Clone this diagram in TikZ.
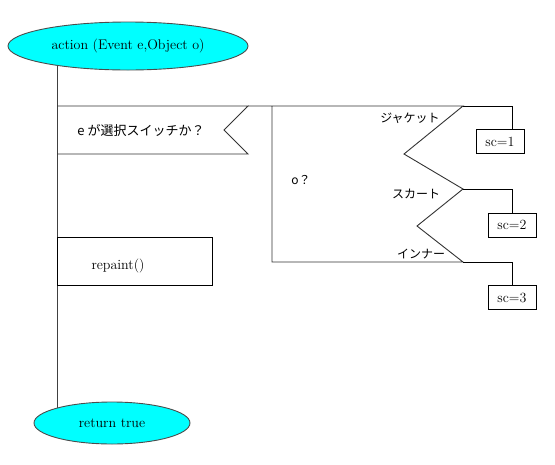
\documentclass[tikz,border=0pt]{standalone}
\usepackage{fontspec}
\newfontfamily\jpfont{Noto Sans CJK JP}
\usetikzlibrary{positioning,shapes.geometric}
\definecolor{TermColor}{RGB}{0,255,255}
\tikzset{terminal/.style={ellipse,draw=black!70,fill=TermColor,inner sep=0pt,font=\fontsize{14}{16}\selectfont},
	valbox/.style={draw,rectangle,minimum width=48pt,minimum height=24pt,inner sep=0pt,font=\fontsize{14}{16}\selectfont},
	jtext/.style={inner sep=0pt,font=\jpfont\fontsize{12}{14}\selectfont},
	ltext/.style={inner sep=0pt,font=\fontsize{14}{16}\selectfont}}
\begin{document}
\begin{tikzpicture}[x=1pt,y=-1pt,line width=0.9pt]
	\useasboundingbox (0,0) rectangle (555,464);
	\coordinate (top) at (57,46);
	\coordinate (bottom) at (57,423);
	\draw[black!75] (top) -- (bottom);
	\node[terminal,minimum width=240pt,minimum height=48pt] (action) at (128,46) {action (Event e,Object o)};
	\node[terminal,minimum width=156pt,minimum height=42pt] (ret) at (112,423) {return true};
	% question box
	\coordinate (q1) at (57,106);
	\coordinate (q2) at (248,106);
	\coordinate (q3) at (224,130);
	\coordinate (q4) at (248,154);
	\coordinate (q5) at (57,154);
	\draw[black!80] (q1) -- (q2) -- (q3) -- (q4) -- (q5);
	\node[jtext,font=\jpfont\fontsize{13}{15}\selectfont] (quest) at (141,131) {e\hspace{3pt}が選択スイッチか？};
	% case box
	\coordinate (b1) at (463,106);
	\coordinate (z1) at (404,154);
	\coordinate (b2) at (463,189);
	\coordinate (z2) at (417,226);
	\coordinate (b3) at (463,262);
	\coordinate (c1) at (272,262);
	\coordinate (c2) at (272,106);
	\draw[black!80] (q2) -- (b1) -- (z1) -- (b2) -- (z2) -- (b3) -- (c1) -- (c2);
	\node[jtext] (obj) at (301,180) {o？};
	\node[jtext] (jacket) at (410,118) {ジャケット};
	\node[jtext] (skirt) at (416,194) {スカート};
	\node[jtext] (inner) at (421,254) {インナー};
	\node[valbox] (sc1) at (500,141.5) {sc=1};
	\node[valbox] (sc2) at (512,225) {sc=2};
	\node[valbox] (sc3) at (512,297.5) {sc=3};
	\draw (b1) -| ([xshift=12pt]sc1.north);
	\draw (b2) -| (sc2.north);
	\draw (b3) -| (sc3.north);
	% process
	\node[draw,rectangle,minimum width=155pt,minimum height=48pt,anchor=north west,inner sep=0pt] (repaint) at (57,237) {};
	\node[ltext] (repainttext) at (118,266) {repaint()};
\end{tikzpicture}
\end{document}
